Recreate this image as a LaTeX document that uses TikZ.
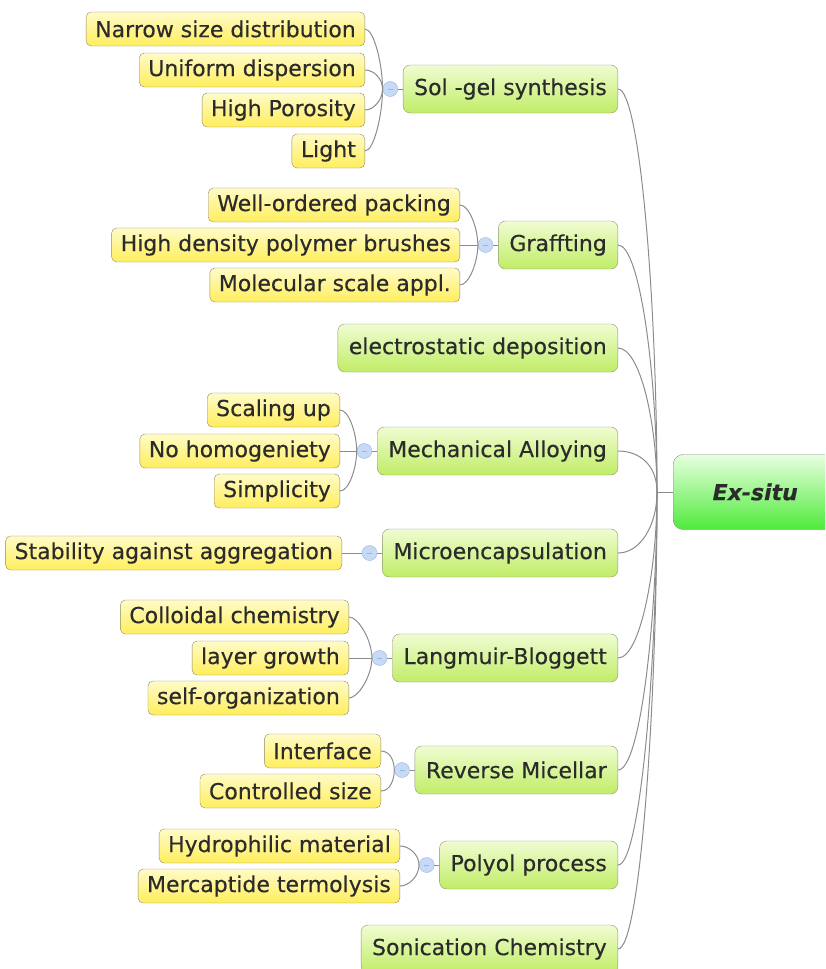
\documentclass[tikz,border=0pt]{standalone}
\usepackage{fontspec}
\setmainfont{DejaVu Sans}[FakeBold=0.3]
\usetikzlibrary{positioning}

\definecolor{leaftop}{HTML}{FFFBC8}
\definecolor{leafbot}{HTML}{FFEE5C}
\definecolor{leafline}{HTML}{8E8B6E}
\definecolor{branchtop}{HTML}{F0FCD2}
\definecolor{branchbot}{HTML}{C0ED66}
\definecolor{branchline}{HTML}{8B9873}
\definecolor{roottop}{HTML}{E8FFE0}
\definecolor{rootbot}{HTML}{4FEB3B}
\definecolor{rootline}{HTML}{7F8C7F}
\definecolor{hubfill}{HTML}{C6DAF6}
\definecolor{hubline}{HTML}{98B6E2}
\definecolor{linkgray}{HTML}{8C8C8C}
\definecolor{textgray}{HTML}{2B2B2B}

\begin{document}
\begin{tikzpicture}[x=1pt,y=-1pt]
\tikzset{leaf style/.style={shape=rectangle, rounded corners=5pt, draw=leafline, top color=leaftop, bottom color=leafbot,
            anchor=east, minimum height=34pt, inner xsep=9pt, inner ysep=0pt, text=textgray, font=\fontsize{22}{26}\selectfont},
         branch style/.style={shape=rectangle, rounded corners=7pt, draw=branchline, top color=branchtop, bottom color=branchbot,
            anchor=east, minimum height=48pt, inner xsep=11pt, inner ysep=0pt, text=textgray, font=\fontsize{22}{26}\selectfont},
         root style/.style={shape=rectangle, rounded corners=10pt, draw=rootline, top color=roottop, bottom color=rootbot,
            anchor=west, minimum width=164pt, minimum height=75pt, text=textgray, font=\fontsize{22}{26}\selectfont\bfseries\itshape},
         hub style/.style={shape=circle, draw=hubline, fill=hubfill, minimum size=15pt, inner sep=0pt,
            path picture={\draw[hubline, line width=1pt] ([xshift=-2.5pt]path picture bounding box.center) -- ([xshift=2.5pt]path picture bounding box.center);}},
         leaf up/.style={out=0, in=90, out distance=9pt, in looseness=1},
         leaf down/.style={out=0, in=270, out distance=9pt, in looseness=1},
         spoke up/.style={out=0, in=90, out distance=22pt, in looseness=1.2},
         spoke down/.style={out=0, in=270, out distance=22pt, in looseness=1.2}}

\useasboundingbox (0,0) rectangle (825,969);
\clip (0,0) rectangle (825,969);

\node[root style] at (673, 492)   (0)     {Ex-situ};
\coordinate (h) at (657, 492);

\node[branch style] at (618, 89)    (1)     {Sol -gel synthesis};
\node[branch style] at (618, 245)   (2)     {Graffting};
\node[branch style] at (618, 348)   (3)     {electrostatic deposition};
\node[branch style] at (618, 451)   (4)     {Mechanical Alloying};
\node[branch style] at (618, 553)   (5)     {Microencapsulation};
\node[branch style] at (618, 658)   (6)     {Langmuir-Bloggett};
\node[branch style] at (618, 770)   (7)     {Reverse Micellar};
\node[branch style] at (618, 865)   (8)     {Polyol process};
\node[branch style] at (618, 949)   (9)     {Sonication Chemistry};

\node[hub style, left=5pt of 1] (c1) {};
\node[hub style, left=5pt of 2] (c2) {};
\node[hub style, left=5pt of 4] (c4) {};
\node[hub style, left=5pt of 5] (c5) {};
\node[hub style, left=5pt of 6] (c6) {};
\node[hub style, left=5pt of 7] (c7) {};
\node[hub style, left=5pt of 8] (c8) {};

\node[leaf style] at (365, 29)    (11)    {Narrow size distribution};
\node[leaf style] at (365, 70)    (12)    {Uniform dispersion};
\node[leaf style] at (365, 110)   (13)    {High Porosity};
\node[leaf style] at (365, 151)   (14)    {Light};

\node[leaf style] at (460, 205)   (21)    {Well-ordered packing};
\node[leaf style] at (460, 245)   (22)    {High density polymer brushes};
\node[leaf style] at (460, 285)   (23)    {Molecular scale appl.};

\node[leaf style] at (340, 410)   (41)    {Scaling up};
\node[leaf style] at (340, 451)   (42)    {No homogeniety};
\node[leaf style] at (340, 491)   (43)    {Simplicity};

\node[leaf style] at (342, 553)   (51)    {Stability against aggregation};

\node[leaf style] at (349, 617)   (61)    {Colloidal chemistry};
\node[leaf style] at (349, 658)   (62)    {layer growth};
\node[leaf style] at (349, 698)   (63)    {self-organization};

\node[leaf style] at (381, 751)   (71)    {Interface};
\node[leaf style] at (381, 791)   (72)    {Controlled size};

\node[leaf style] at (400, 846)   (81)    {Hydrophilic material};
\node[leaf style] at (400, 886)   (82)    {Mercaptide termolysis};

\draw[line width=1pt, linkgray]
            (11.east)   edge[leaf up]      (c1.west)
            (12.east)   edge[leaf up]      (c1.west)
            (13.east)   edge[leaf down]    (c1.west)
            (14.east)   edge[leaf down]    (c1.west)
            (21.east)   edge[leaf up]      (c2.west)
            (22.east)   edge               (c2.west)
            (23.east)   edge[leaf down]    (c2.west)
            (41.east)   edge[leaf up]      (c4.west)
            (42.east)   edge               (c4.west)
            (43.east)   edge[leaf down]    (c4.west)
            (51.east)   edge               (c5.west)
            (61.east)   edge[leaf up]      (c6.west)
            (62.east)   edge               (c6.west)
            (63.east)   edge[leaf down]    (c6.west)
            (71.east)   edge[leaf up]      (c7.west)
            (72.east)   edge[leaf down]    (c7.west)
            (81.east)   edge[leaf up]      (c8.west)
            (82.east)   edge[leaf down]    (c8.west)
            (c1)        edge               (1)
            (c2)        edge               (2)
            (c4)        edge               (4)
            (c5)        edge               (5)
            (c6)        edge               (6)
            (c7)        edge               (7)
            (c8)        edge               (8)
            (1.east)    edge[spoke up]     (h)
            (2.east)    edge[spoke up]     (h)
            (3.east)    edge[spoke up]     (h)
            (4.east)    edge[spoke up]     (h)
            (5.east)    edge[spoke down]   (h)
            (6.east)    edge[spoke down]   (h)
            (7.east)    edge[spoke down]   (h)
            (8.east)    edge[spoke down]   (h)
            (9.east)    edge[spoke down]   (h)
            (h)         edge               (0.west)
;
\end{tikzpicture}
\end{document}
